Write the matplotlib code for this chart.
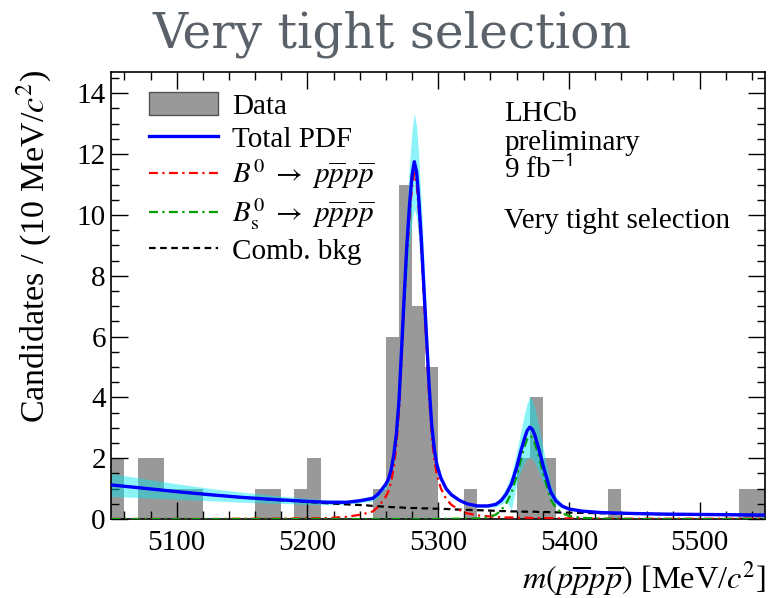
import numpy as np
import matplotlib
matplotlib.use('Agg')
import matplotlib.pyplot as plt
from matplotlib.patches import Patch
from matplotlib.lines import Line2D
from matplotlib.ticker import MultipleLocator, FormatStrFormatter

plt.rcParams['font.family'] = ['Liberation Serif', 'DejaVu Serif']
plt.rcParams['mathtext.fontset'] = 'stix'

# ---------------- data ----------------
bin_low, bin_high, bin_width = 5050, 5550, 10
counts = [2, 0, 2, 2, 1, 1, 1, 0, 0, 0,
          0, 1, 1, 0, 1, 2, 0, 0, 0, 0,
          1, 6, 11, 7, 5, 0, 0, 1, 0, 0,
          0, 2, 4, 2, 0, 0, 0, 0, 1, 0,
          0, 0, 0, 0, 0, 0, 0, 0, 1, 1]

mass = [5050, 5075, 5100, 5125, 5150, 5175, 5200, 5215, 5230, 5240,
        5245, 5250, 5254, 5257, 5260, 5262, 5264, 5266, 5268, 5270,
        5272, 5274, 5276, 5278, 5280, 5281.7, 5283.5, 5285, 5287, 5289,
        5291, 5293, 5295, 5297, 5299, 5302, 5306, 5310, 5316, 5322,
        5330, 5338, 5344, 5348, 5352, 5356, 5360, 5363, 5366, 5368,
        5370, 5372, 5374, 5377, 5380, 5383, 5386, 5390, 5395, 5400,
        5410, 5425, 5450, 5475, 5500, 5525, 5550]
total = [1.12, 1.01, 0.90, 0.80, 0.71, 0.64, 0.58, 0.55, 0.55, 0.60,
         0.64, 0.68, 0.82, 0.98, 1.15, 1.32, 1.62, 2.10, 2.80, 3.90,
         5.60, 7.35, 9.00, 10.30, 11.30, 11.75, 11.40, 10.60, 9.25, 7.65,
         6.03, 4.42, 3.10, 2.30, 1.78, 1.35, 1.00, 0.80, 0.62, 0.50,
         0.43, 0.43, 0.48, 0.60, 0.82, 1.15, 1.70, 2.20, 2.65, 2.90,
         3.02, 2.95, 2.75, 2.30, 1.80, 1.35, 0.90, 0.60, 0.42, 0.33,
         0.26, 0.21, 0.18, 0.16, 0.15, 0.14, 0.13]
comb_bkg = [1.12, 1.01, 0.90, 0.80, 0.71, 0.63, 0.56, 0.52, 0.48, 0.46,
            0.45, 0.43, 0.42, 0.41, 0.40, 0.40, 0.39, 0.39, 0.38, 0.38,
            0.38, 0.37, 0.37, 0.37, 0.36, 0.36, 0.36, 0.36, 0.35, 0.35,
            0.35, 0.35, 0.34, 0.34, 0.34, 0.33, 0.33, 0.32, 0.31, 0.30,
            0.29, 0.28, 0.27, 0.26, 0.26, 0.25, 0.25, 0.25, 0.24, 0.24,
            0.24, 0.24, 0.24, 0.23, 0.23, 0.23, 0.22, 0.22, 0.21, 0.21,
            0.20, 0.19, 0.17, 0.155, 0.14, 0.13, 0.12]
b0_sig = [0.00, 0.00, 0.00, 0.00, 0.01, 0.01, 0.02, 0.03, 0.07, 0.14,
          0.19, 0.25, 0.40, 0.56, 0.74, 0.92, 1.22, 1.70, 2.41, 3.51,
          5.21, 6.97, 8.62, 9.92, 10.93, 11.38, 11.03, 10.23, 8.89, 7.29,
          5.67, 4.06, 2.75, 1.95, 1.44, 1.01, 0.66, 0.47, 0.30, 0.19,
          0.12, 0.09, 0.07, 0.06, 0.05, 0.05, 0.04, 0.04, 0.04, 0.04,
          0.04, 0.03, 0.03, 0.03, 0.03, 0.03, 0.03, 0.02, 0.02, 0.02,
          0.02, 0.01, 0.01, 0.01, 0.01, 0.01, 0.01]
bs_sig = [0, 0, 0, 0, 0, 0, 0, 0, 0, 0,
          0, 0, 0, 0, 0, 0, 0, 0, 0, 0,
          0, 0, 0, 0, 0, 0, 0, 0, 0, 0,
          0, 0, 0, 0, 0, 0.01, 0.01, 0.01, 0.01, 0.01,
          0.02, 0.06, 0.14, 0.28, 0.51, 0.85, 1.41, 1.91, 2.37, 2.62,
          2.74, 2.68, 2.48, 2.04, 1.54, 1.09, 0.65, 0.36, 0.19, 0.10,
          0.04, 0.01, 0, 0, 0, 0, 0]
band_lo = [0.74, 0.70, 0.65, 0.60, 0.55, 0.52, 0.48, 0.47, 0.48, 0.53,
           0.56, 0.59, 0.72, 0.88, 1.02, 1.18, 1.45, 1.87, 2.47, 3.42,
           4.89, 6.40, 7.83, 8.95, 9.81, 10.20, 9.90, 9.21, 8.04, 6.66,
           5.26, 3.87, 2.73, 2.03, 1.58, 1.21, 0.91, 0.73, 0.57, 0.46,
           0.39, 0.38, 0.40, 0.48, 0.60, 0.30, 1.15, 1.55, 1.85, 2.00,
           2.02, 1.98, 1.85, 1.55, 1.22, 0.95, 0.65, 0.46, 0.35, 0.29,
           0.23, 0.19, 0.16, 0.14, 0.13, 0.12, 0.11]
band_hi = [1.50, 1.32, 1.16, 1.01, 0.88, 0.77, 0.68, 0.63, 0.62, 0.67,
           0.72, 0.77, 0.92, 1.08, 1.28, 1.46, 1.79, 2.33, 3.13, 4.38,
           6.31, 8.30, 10.17, 11.65, 12.79, 13.35, 12.90, 11.99, 10.46, 8.64,
           6.80, 4.97, 3.47, 2.57, 1.98, 1.49, 1.09, 0.87, 0.67, 0.54,
           0.47, 0.48, 0.56, 0.72, 1.04, 1.45, 2.20, 2.85, 3.45, 3.80,
           4.02, 3.92, 3.65, 3.05, 2.38, 1.75, 1.15, 0.74, 0.49, 0.37,
           0.29, 0.23, 0.20, 0.18, 0.17, 0.16, 0.15]

legend_labels = ['Data', 'Total PDF',
                 r'$B^0 \ \rightarrow\ p\overline{p}p\overline{p}$',
                 r'$B^0_{\mathrm{s}} \ \rightarrow\ p\overline{p}p\overline{p}$',
                 'Comb. bkg']

# ---------------- figure ----------------
fig = plt.figure(figsize=(7.7, 5.98), dpi=100)
ax = fig.add_axes([0.1447, 0.1321, 0.8488, 0.748])

edges = np.arange(bin_low, bin_high, bin_width)
ax.bar(edges, counts, width=bin_width, align='edge', color='#999999',
       linewidth=0, zorder=1)
ax.fill_between(mass, band_lo, band_hi, color='#00e8f0', alpha=0.45,
                linewidth=0, zorder=2)
ax.plot(mass, comb_bkg, color='black', lw=1.6, dashes=(3, 2), zorder=3)
ax.plot(mass, b0_sig, color='red', lw=1.6, dashes=(4, 2, 1, 2), zorder=3)
ax.plot(mass, bs_sig, color='#00a000', lw=1.6, dashes=(4, 2, 1, 2), zorder=3)
ax.plot(mass, total, color='blue', lw=2.4, zorder=4)

ax.set_xlim(bin_low, bin_high)
ax.set_ylim(0, 14.71)
ax.xaxis.set_major_locator(MultipleLocator(100))
ax.xaxis.set_minor_locator(MultipleLocator(20))
ax.yaxis.set_major_locator(MultipleLocator(2))
ax.yaxis.set_minor_locator(MultipleLocator(0.5))
ax.xaxis.set_major_formatter(FormatStrFormatter('%d'))
ax.yaxis.set_major_formatter(FormatStrFormatter('%d'))
ax.tick_params(which='both', direction='in', top=True, right=True,
               labelsize=21, width=1.0)
ax.tick_params(which='major', length=12)
ax.tick_params(which='minor', length=6)
ax.tick_params(axis='y', pad=4)
ax.tick_params(axis='x', pad=8)
for lbl in ax.get_xticklabels() + ax.get_yticklabels():
    lbl.set_fontfamily(['Liberation Serif', 'DejaVu Serif'])
for s in ax.spines.values():
    s.set_linewidth(1.2)

handles = [Patch(facecolor='#999999', edgecolor='#555555', linewidth=1),
           Line2D([], [], color='blue', lw=2.4),
           Line2D([], [], color='red', lw=1.6, dashes=(4, 2, 1, 2)),
           Line2D([], [], color='#00a000', lw=1.6, dashes=(4, 2, 1, 2)),
           Line2D([], [], color='black', lw=1.6, dashes=(3, 2))]
ax.legend(handles, legend_labels, loc='upper left',
          bbox_to_anchor=(0.0576, 0.955), frameon=False, fontsize=21,
          handlelength=2.35, handletextpad=0.5, labelspacing=0.18,
          borderaxespad=0, borderpad=0, handleheight=0.85)

ax.text(0.601, 0.8906, 'LHCb', transform=ax.transAxes, fontsize=21,
        va='baseline', ha='left')
ax.text(0.601, 0.825, 'preliminary', transform=ax.transAxes, fontsize=21,
        va='baseline', ha='left')
ax.text(0.601, 0.7617, r'9 fb$^{\mathsf{-1}}$', transform=ax.transAxes,
        fontsize=21, va='baseline', ha='left')
ax.text(0.601, 0.65, 'Very tight selection', transform=ax.transAxes,
        fontsize=21, va='baseline', ha='left')

fig.text(766 / 770, 1 - 588 / 598,
         r'$m(p\overline{p}p\overline{p})$ [MeV/$c^2$]',
         ha='right', va='baseline', fontsize=23.3)
fig.text(0.0435, 0.883, r'Candidates / (10 MeV/$c^2$)', rotation=90,
         ha='center', va='top', fontsize=24.5)

fig.text(0.509, 1 - 48 / 598, 'Very tight selection', ha='center',
         va='baseline', fontsize=35, color='#5a6169', family='DejaVu Serif')

fig.savefig('out.png', dpi=100)
